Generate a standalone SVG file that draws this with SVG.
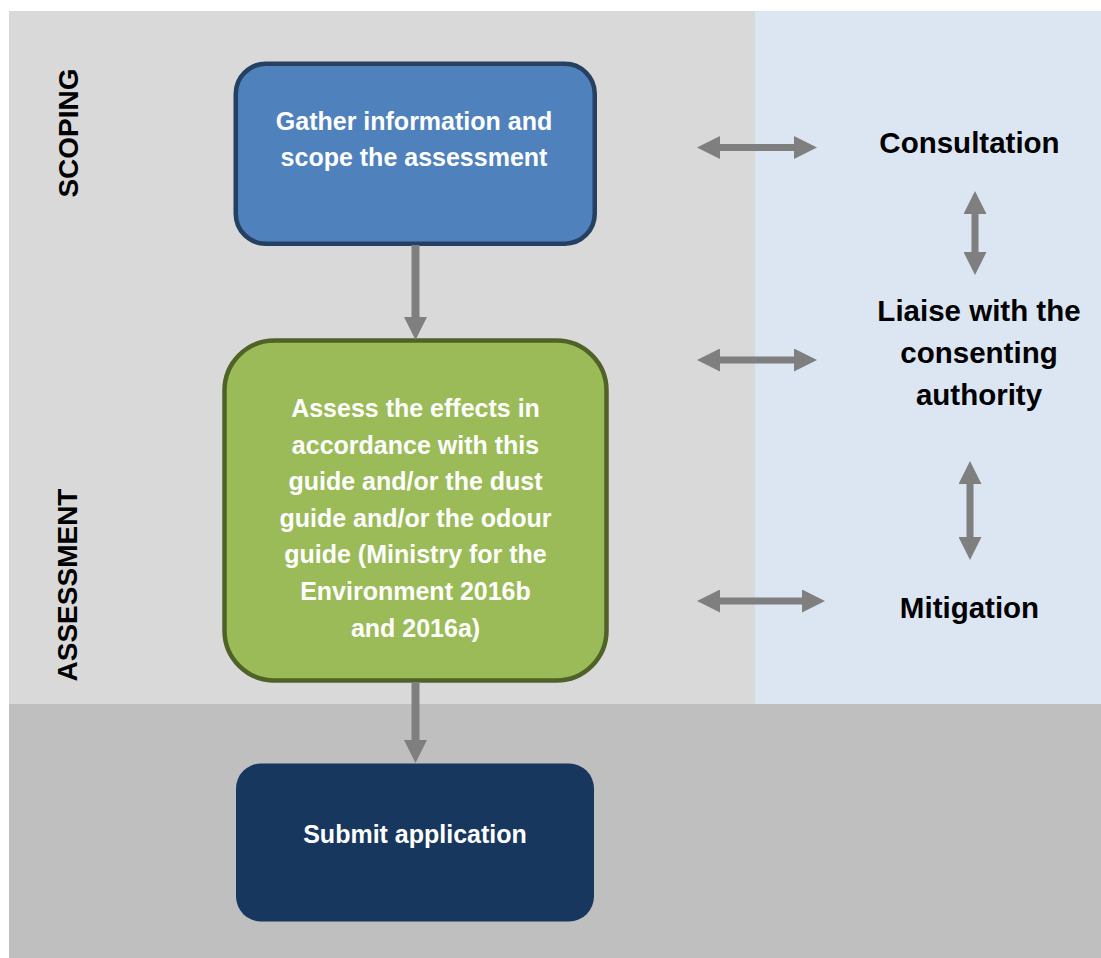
<svg xmlns="http://www.w3.org/2000/svg" width="1101" height="958" viewBox="0 0 1101 958">
  <defs>
    <style>
      .lbl { font-family: "Liberation Sans", Arial, sans-serif; font-weight: bold; text-anchor: middle; }
      .phase { font-size: 28px; fill: #000; }
      .side { font-size: 29.5px; fill: #000; }
      .inner { font-size: 25px; fill: #fff; }
      .conn { stroke: #7f7f7f; fill: none; }
      .flow { stroke-width: 8; marker-end: url(#head); }
      .both { stroke-width: 7; marker-start: url(#head); marker-end: url(#head); }
    </style>
    <marker id="head" markerUnits="userSpaceOnUse" viewBox="0 0 23 23" markerWidth="23" markerHeight="23" refX="0" refY="11.5" orient="auto-start-reverse">
      <path d="M0,0 L23,11.5 L0,23 Z" fill="#7f7f7f"/>
    </marker>
  </defs>

  <rect width="1101" height="958" fill="#fff"/>

  <!-- background bands -->
  <g id="bands">
    <rect x="9" y="11" width="1092" height="693" fill="#d9d9d9"/>
    <rect x="755" y="11" width="346" height="693" fill="#dce6f2"/>
    <rect x="9" y="704" width="1092" height="254" fill="#bfbfbf"/>
  </g>

  <!-- phase labels -->
  <g id="phase-scoping">
    <text class="lbl phase" transform="translate(78,133) rotate(-90)">SCOPING</text>
  </g>
  <g id="phase-assessment">
    <text class="lbl phase" transform="translate(77,585) rotate(-90)">ASSESSMENT</text>
  </g>

  <!-- process steps -->
  <g id="node-gather">
    <rect x="235.75" y="63.75" width="359" height="180" rx="30" fill="#4f81bd" stroke="#254061" stroke-width="4.5"/>
    <text class="lbl inner" x="414" y="129.5">Gather information and</text>
    <text class="lbl inner" x="414" y="166">scope the assessment</text>
  </g>

  <g id="node-assess">
    <rect x="224.5" y="340.5" width="382" height="340" rx="50" fill="#9bbb59" stroke="#4f6228" stroke-width="4.5"/>
    <text class="lbl inner" x="415.5" y="417">Assess the effects in</text>
    <text class="lbl inner" x="415.5" y="453.6">accordance with this</text>
    <text class="lbl inner" x="415.5" y="490.2">guide and/or the dust</text>
    <text class="lbl inner" x="415.5" y="526.8">guide and/or the odour</text>
    <text class="lbl inner" x="415.5" y="563.4">guide (Ministry for the</text>
    <text class="lbl inner" x="415.5" y="600">Environment 2016b</text>
    <text class="lbl inner" x="415.5" y="636.6">and 2016a)</text>
  </g>

  <g id="node-submit">
    <rect x="236" y="763.5" width="358" height="158" rx="25" fill="#17375e"/>
    <text class="lbl inner" x="415" y="843">Submit application</text>
  </g>

  <!-- side activities -->
  <g id="node-consultation">
    <text class="lbl side" x="969.5" y="153">Consultation</text>
  </g>
  <g id="node-liaise">
    <text class="lbl side" x="979" y="321">Liaise with the</text>
    <text class="lbl side" x="979" y="363">consenting</text>
    <text class="lbl side" x="979" y="405">authority</text>
  </g>
  <g id="node-mitigation">
    <text class="lbl side" x="969.5" y="618">Mitigation</text>
  </g>

  <!-- connectors -->
  <g id="connectors" class="conn">
    <line class="flow" x1="415.5" y1="245" x2="415.5" y2="317"/>
    <line class="flow" x1="415.5" y1="682" x2="415.5" y2="740"/>
    <line class="both" x1="720" y1="147.5" x2="794" y2="147.5"/>
    <line class="both" x1="720" y1="360" x2="794" y2="360"/>
    <line class="both" x1="720" y1="601" x2="802" y2="601"/>
    <line class="both" x1="975" y1="214" x2="975" y2="252"/>
    <line class="both" x1="970" y1="484" x2="970" y2="537"/>
  </g>
</svg>
